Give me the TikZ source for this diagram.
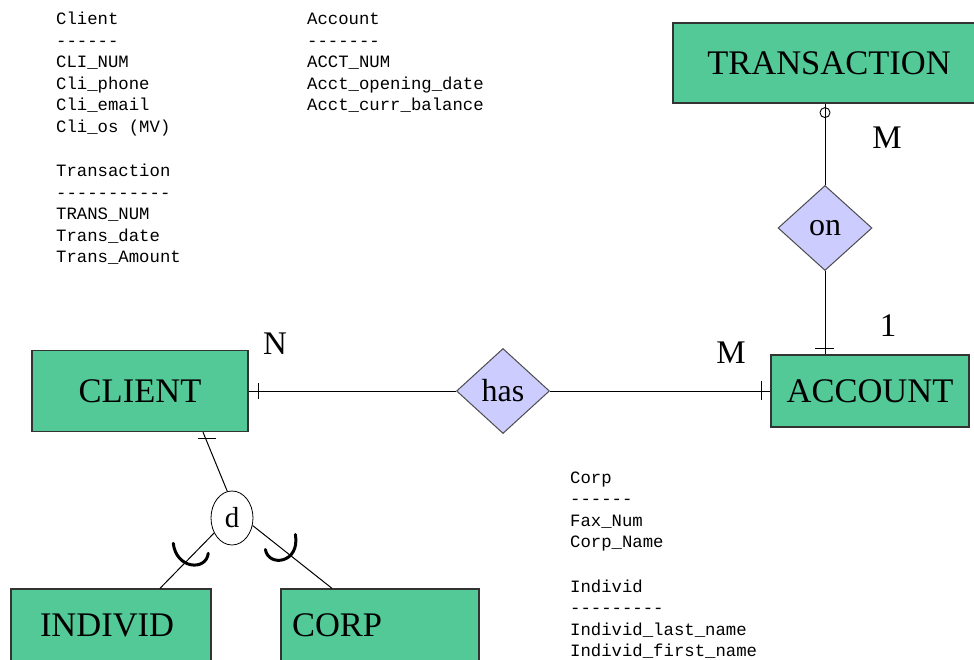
\documentclass[tikz,border=0pt]{standalone}
\usepackage{fontspec}
\setmainfont{Liberation Serif}
\setmonofont{Liberation Mono}
\usetikzlibrary{shapes.geometric,calc}
\definecolor{entgreen}{RGB}{82,201,151}
\definecolor{rellav}{RGB}{204,204,255}
\newcommand\hy{-\kern0pt}
\begin{document}
\begin{tikzpicture}[x=1pt,y=-1pt,
  entity/.style={draw=black!80, line width=1.3pt, fill=entgreen, inner sep=0pt, font=\fontsize{34.5}{40}\selectfont},
  rel/.style={diamond, draw=black!70, line width=1pt, fill=rellav, inner sep=0pt, font=\fontsize{32}{36}\selectfont},
  conn/.style={line width=1pt, black},
  tickmark/.style={line width=1pt},
  cup/.style={line width=3pt, line cap=round},
  card/.style={inner sep=0pt, font=\fontsize{33}{36}\selectfont},
  attr/.style={anchor=base west, inner sep=0pt, font=\ttfamily\fontsize{17.3}{21.5}\selectfont}]
\clip (0,0) rectangle (974,660);
\fill[white] (0,0) rectangle (974,660);

% entities
\node[entity, minimum width=216pt, minimum height=81pt] (client) at (140,391) {CLIENT};
\node[entity, minimum width=198pt, minimum height=72pt] (account) at (870,391) {ACCOUNT};
\node[entity, minimum width=312pt, minimum height=80pt] (trans) at (829,63) {TRANSACTION};
\node[entity, minimum width=200pt, minimum height=72pt, text width=142pt, inner xsep=29pt, align=left] (indiv) at (111,625) {INDIVID};
\node[entity, minimum width=198pt, minimum height=72pt, text width=176pt, inner xsep=11pt, align=left] (corp) at (380,625) {CORP};

% relationships
\node[rel, minimum width=93pt, minimum height=85pt] (has) at (503,391) {has};
\node[rel, minimum width=94pt, minimum height=85pt] (on) at (825,228) {on};
\node[ellipse, draw, line width=0.8pt, fill=white, minimum width=42pt, minimum height=54pt, inner sep=0pt, font=\fontsize{29}{32}\selectfont] (d) at (232,518) {d};

% cardinalities
\node[card] (n1) at (275,344) {N};
\node[card] (m1) at (731,353) {M};
\node[card] (m2) at (887,138) {M};
\node[card] (one) at (888,326) {1};

% connectors
\draw[conn] (client.east) -- coordinate[pos=0.048] (t1) (has.west);
\draw[tickmark] ($(t1)+(0,-8)$) -- ($(t1)+(0,8)$);
\draw[conn] (has.east) -- coordinate[pos=0.959] (t2) (account.west);
\draw[tickmark] ($(t2)+(0,-10)$) -- ($(t2)+(0,9)$);
\draw[conn] (on.south) -- coordinate[pos=0.93] (t3) (on.south |- account.north);
\draw[tickmark] ($(t3)+(-10,0)$) -- ($(t3)+(9,0)$);
\draw[conn] (on.north) -- coordinate[pos=0.89] (o1) (on.north |- trans.south);
\draw[line width=0.9pt] (o1) circle[radius=5pt];

\draw[conn] ([xshift=63pt]client.south) -- coordinate[pos=0.11] (t4) (d.100);
\draw[tickmark] ($(t4)+(-8,0)$) -- ($(t4)+(10,0)$);
\draw[conn] (d.220) -- coordinate[pos=0.33] (c1) ([xshift=49pt]indiv.north);
\draw[conn] (d.-20) -- coordinate[pos=0.35] (c2) ([xshift=-48pt]corp.north);
\draw[cup] ($(c1)+(-23,-8)$) .. controls ($(c1)+(-20,18)$) and ($(c1)+(10,20)$) .. ($(c1)+(12,2)$);
\draw[cup] ($(c2)+(-15,2)$) .. controls ($(c2)+(-12,20)$) and ($(c2)+(20,16)$) .. ($(c2)+(15,-13)$);

% attribute lists
\node[attr] (clientattr) at (56,25) {\begin{tabular}[t]{@{}l@{}}Client\\ \hy\hy\hy\hy\hy\hy\\ CLI\_NUM\\ Cli\_phone\\ Cli\_email\\ Cli\_os (MV)\end{tabular}};
\node[attr] (transattr) at (56,177) {\begin{tabular}[t]{@{}l@{}}Transaction\\ \hy\hy\hy\hy\hy\hy\hy\hy\hy\hy\hy\\ TRANS\_NUM\\ Trans\_date\\ Trans\_Amount\end{tabular}};
\node[attr] (acctattr) at (307,25) {\begin{tabular}[t]{@{}l@{}}Account\\ \hy\hy\hy\hy\hy\hy\hy\\ ACCT\_NUM\\ Acct\_opening\_date\\ Acct\_curr\_balance\end{tabular}};
\node[attr] (corpattr) at (570,483) {\begin{tabular}[t]{@{}l@{}}Corp\\ \hy\hy\hy\hy\hy\hy\\ Fax\_Num\\ Corp\_Name\end{tabular}};
\node[attr] (indivattr) at (570,592) {\begin{tabular}[t]{@{}l@{}}Individ\\ \hy\hy\hy\hy\hy\hy\hy\hy\hy\\ Individ\_last\_name\\ Individ\_first\_name\end{tabular}};
\end{tikzpicture}
\end{document}
